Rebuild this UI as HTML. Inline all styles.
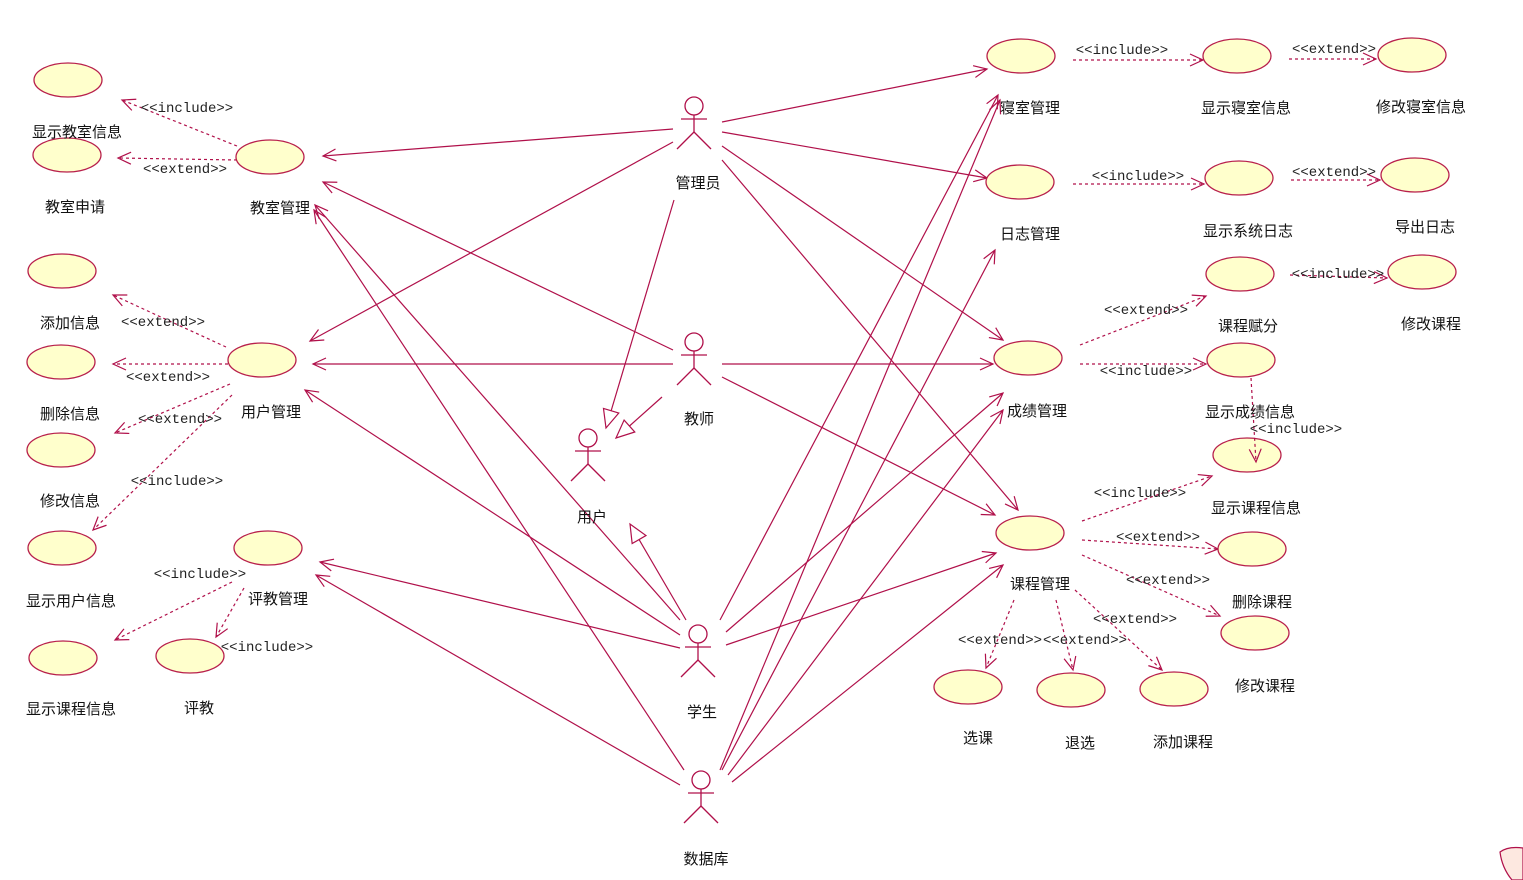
<!DOCTYPE html>
<html><head><meta charset="utf-8"><style>
html,body{margin:0;padding:0;background:#fff;}
svg{display:block;}
text{font-family:"Liberation Sans","Noto Sans CJK SC",sans-serif;font-size:15px;fill:#111;text-anchor:middle;}
.s{font-family:"Liberation Mono","DejaVu Sans Mono",monospace;font-size:14px;fill:#222;}
ellipse{fill:#ffffcc;stroke:#b8204c;stroke-width:1.3;}
.l{stroke:#b0104a;stroke-width:1.2;fill:none;marker-end:url(#a);}
.d{stroke:#b0104a;stroke-width:1.2;fill:none;stroke-dasharray:3,3;marker-end:url(#a);}
.g{stroke:#b0104a;stroke-width:1.2;fill:none;marker-end:url(#t);}
.act{stroke:#b0104a;stroke-width:1.3;fill:none;}
</style></head><body>
<svg width="1523" height="880" viewBox="0 0 1523 880" xmlns="http://www.w3.org/2000/svg">
<defs>
<marker id="a" markerUnits="userSpaceOnUse" markerWidth="16" markerHeight="16" refX="14" refY="8" orient="auto"><path d="M1,2 L14,8 L1,14" fill="none" stroke="#b0104a" stroke-width="1.2"/></marker>
<marker id="t" markerUnits="userSpaceOnUse" markerWidth="22" markerHeight="22" refX="20" refY="11" orient="auto"><path d="M2,3 L20,11 L2,19 Z" fill="#fff" stroke="#b0104a" stroke-width="1.2"/></marker>
<g id="actor" class="act"><circle cx="0" cy="0" r="9"/><line x1="0" y1="9" x2="0" y2="26"/><line x1="-13" y1="13" x2="13" y2="13"/><line x1="0" y1="26" x2="-17" y2="43"/><line x1="0" y1="26" x2="17" y2="43"/></g>
</defs>

<line class="l" x1="673" y1="129" x2="323" y2="156"/>
<line class="l" x1="673" y1="142" x2="310" y2="341"/>
<line class="l" x1="722" y1="122" x2="987" y2="69"/>
<line class="l" x1="722" y1="132" x2="987" y2="178"/>
<line class="l" x1="722" y1="146" x2="1003" y2="340"/>
<line class="l" x1="722" y1="160" x2="1018" y2="510"/>
<line class="g" x1="674" y1="200" x2="606" y2="428"/>
<line class="l" x1="673" y1="350" x2="323" y2="182"/>
<line class="l" x1="673" y1="364" x2="313" y2="364"/>
<line class="l" x1="722" y1="364" x2="993" y2="364"/>
<line class="l" x1="722" y1="377" x2="995" y2="515"/>
<line class="g" x1="662" y1="397" x2="616" y2="438"/>
<line class="l" x1="680" y1="620" x2="315" y2="205"/>
<line class="l" x1="680" y1="635" x2="305" y2="390"/>
<line class="l" x1="680" y1="648" x2="320" y2="562"/>
<line class="l" x1="720" y1="620" x2="998" y2="95"/>
<line class="l" x1="726" y1="632" x2="1003" y2="393"/>
<line class="l" x1="726" y1="645" x2="996" y2="553"/>
<line class="g" x1="686" y1="620" x2="630" y2="524"/>
<line class="l" x1="684" y1="770" x2="314" y2="210"/>
<line class="l" x1="680" y1="785" x2="316" y2="575"/>
<line class="l" x1="720" y1="770" x2="1000" y2="100"/>
<line class="l" x1="722" y1="770" x2="995" y2="250"/>
<line class="l" x1="728" y1="775" x2="1003" y2="410"/>
<line class="l" x1="732" y1="782" x2="1003" y2="565"/>

<line class="d" x1="237" y1="146" x2="122" y2="100"/>
<line class="d" x1="237" y1="160" x2="118" y2="158"/>
<line class="d" x1="226" y1="347" x2="113" y2="295"/>
<line class="d" x1="228" y1="364" x2="113" y2="364"/>
<line class="d" x1="230" y1="384" x2="115" y2="433"/>
<line class="d" x1="232" y1="395" x2="93" y2="530"/>
<line class="d" x1="232" y1="582" x2="115" y2="640"/>
<line class="d" x1="244" y1="588" x2="216" y2="637"/>
<line class="d" x1="1073" y1="60" x2="1203" y2="60"/>
<line class="d" x1="1289" y1="59" x2="1376" y2="59"/>
<line class="d" x1="1073" y1="184" x2="1204" y2="184"/>
<line class="d" x1="1291" y1="180" x2="1380" y2="180"/>
<line class="d" x1="1080" y1="345" x2="1206" y2="296"/>
<line class="d" x1="1290" y1="275" x2="1387" y2="278"/>
<line class="d" x1="1080" y1="364" x2="1206" y2="364"/>
<line class="d" x1="1082" y1="521" x2="1212" y2="476"/>
<line class="d" x1="1082" y1="540" x2="1218" y2="549"/>
<line class="d" x1="1082" y1="555" x2="1220" y2="616"/>
<line class="d" x1="1014" y1="600" x2="986" y2="668"/>
<line class="d" x1="1056" y1="600" x2="1073" y2="670"/>
<line class="d" x1="1075" y1="590" x2="1162" y2="670"/>

<ellipse cx="68" cy="80" rx="34" ry="17"/>
<ellipse cx="67" cy="155" rx="34" ry="17"/>
<ellipse cx="270" cy="157" rx="34" ry="17"/>
<ellipse cx="62" cy="271" rx="34" ry="17"/>
<ellipse cx="61" cy="362" rx="34" ry="17"/>
<ellipse cx="61" cy="450" rx="34" ry="17"/>
<ellipse cx="62" cy="548" rx="34" ry="17"/>
<ellipse cx="262" cy="360" rx="34" ry="17"/>
<ellipse cx="268" cy="548" rx="34" ry="17"/>
<ellipse cx="63" cy="658" rx="34" ry="17"/>
<ellipse cx="190" cy="656" rx="34" ry="17"/>
<ellipse cx="1021" cy="56" rx="34" ry="17"/>
<ellipse cx="1237" cy="56" rx="34" ry="17"/>
<ellipse cx="1412" cy="55" rx="34" ry="17"/>
<ellipse cx="1020" cy="182" rx="34" ry="17"/>
<ellipse cx="1239" cy="178" rx="34" ry="17"/>
<ellipse cx="1415" cy="175" rx="34" ry="17"/>
<ellipse cx="1240" cy="274" rx="34" ry="17"/>
<ellipse cx="1422" cy="272" rx="34" ry="17"/>
<ellipse cx="1028" cy="358" rx="34" ry="17"/>
<ellipse cx="1241" cy="360" rx="34" ry="17"/>
<ellipse cx="1247" cy="455" rx="34" ry="17"/>
<ellipse cx="1030" cy="533" rx="34" ry="17"/>
<ellipse cx="1252" cy="549" rx="34" ry="17"/>
<ellipse cx="1255" cy="633" rx="34" ry="17"/>
<ellipse cx="968" cy="687" rx="34" ry="17"/>
<ellipse cx="1071" cy="690" rx="34" ry="17"/>
<ellipse cx="1174" cy="689" rx="34" ry="17"/>
<line class="d" x1="1251" y1="378" x2="1256" y2="462"/>

<use href="#actor" x="694" y="106"/>
<use href="#actor" x="694" y="342"/>
<use href="#actor" x="588" y="438"/>
<use href="#actor" x="698" y="634"/>
<use href="#actor" x="701" y="780"/>

<text x="77" y="137">显示教室信息</text>
<text x="75" y="212">教室申请</text>
<text x="280" y="213">教室管理</text>
<text x="70" y="328">添加信息</text>
<text x="70" y="419">删除信息</text>
<text x="70" y="506">修改信息</text>
<text x="71" y="606">显示用户信息</text>
<text x="271" y="417">用户管理</text>
<text x="278" y="604">评教管理</text>
<text x="71" y="714">显示课程信息</text>
<text x="199" y="713">评教</text>
<text x="1030" y="113">寝室管理</text>
<text x="1246" y="113">显示寝室信息</text>
<text x="1421" y="112">修改寝室信息</text>
<text x="1030" y="239">日志管理</text>
<text x="1248" y="236">显示系统日志</text>
<text x="1425" y="232">导出日志</text>
<text x="1248" y="331">课程赋分</text>
<text x="1431" y="329">修改课程</text>
<text x="1037" y="416">成绩管理</text>
<text x="1250" y="417">显示成绩信息</text>
<text x="1256" y="513">显示课程信息</text>
<text x="1040" y="589">课程管理</text>
<text x="1262" y="607">删除课程</text>
<text x="1265" y="691">修改课程</text>
<text x="978" y="743">选课</text>
<text x="1080" y="748">退选</text>
<text x="1183" y="747">添加课程</text>
<text x="698" y="188">管理员</text>
<text x="699" y="424">教师</text>
<text x="592" y="522">用户</text>
<text x="702" y="717">学生</text>
<text x="706" y="864">数据库</text>

<text class="s" x="187" y="112">&lt;&lt;include&gt;&gt;</text>
<text class="s" x="185" y="173">&lt;&lt;extend&gt;&gt;</text>
<text class="s" x="163" y="326">&lt;&lt;extend&gt;&gt;</text>
<text class="s" x="168" y="381">&lt;&lt;extend&gt;&gt;</text>
<text class="s" x="180" y="423">&lt;&lt;extend&gt;&gt;</text>
<text class="s" x="177" y="485">&lt;&lt;include&gt;&gt;</text>
<text class="s" x="200" y="578">&lt;&lt;include&gt;&gt;</text>
<text class="s" x="267" y="651">&lt;&lt;include&gt;&gt;</text>
<text class="s" x="1122" y="54">&lt;&lt;include&gt;&gt;</text>
<text class="s" x="1334" y="53">&lt;&lt;extend&gt;&gt;</text>
<text class="s" x="1138" y="180">&lt;&lt;include&gt;&gt;</text>
<text class="s" x="1334" y="176">&lt;&lt;extend&gt;&gt;</text>
<text class="s" x="1146" y="314">&lt;&lt;extend&gt;&gt;</text>
<text class="s" x="1338" y="278">&lt;&lt;include&gt;&gt;</text>
<text class="s" x="1146" y="375">&lt;&lt;include&gt;&gt;</text>
<text class="s" x="1296" y="433">&lt;&lt;include&gt;&gt;</text>
<text class="s" x="1140" y="497">&lt;&lt;include&gt;&gt;</text>
<text class="s" x="1158" y="541">&lt;&lt;extend&gt;&gt;</text>
<text class="s" x="1168" y="584">&lt;&lt;extend&gt;&gt;</text>
<text class="s" x="1135" y="623">&lt;&lt;extend&gt;&gt;</text>
<text class="s" x="1000" y="644">&lt;&lt;extend&gt;&gt;</text>
<text class="s" x="1085" y="644">&lt;&lt;extend&gt;&gt;</text>

<path d="M1500,852 Q1508,846 1523,848 L1523,880 L1512,880 Q1502,868 1500,852 Z" fill="#fde8e0" stroke="#b0104a" stroke-width="1.2"/>
</svg>
</body></html>
